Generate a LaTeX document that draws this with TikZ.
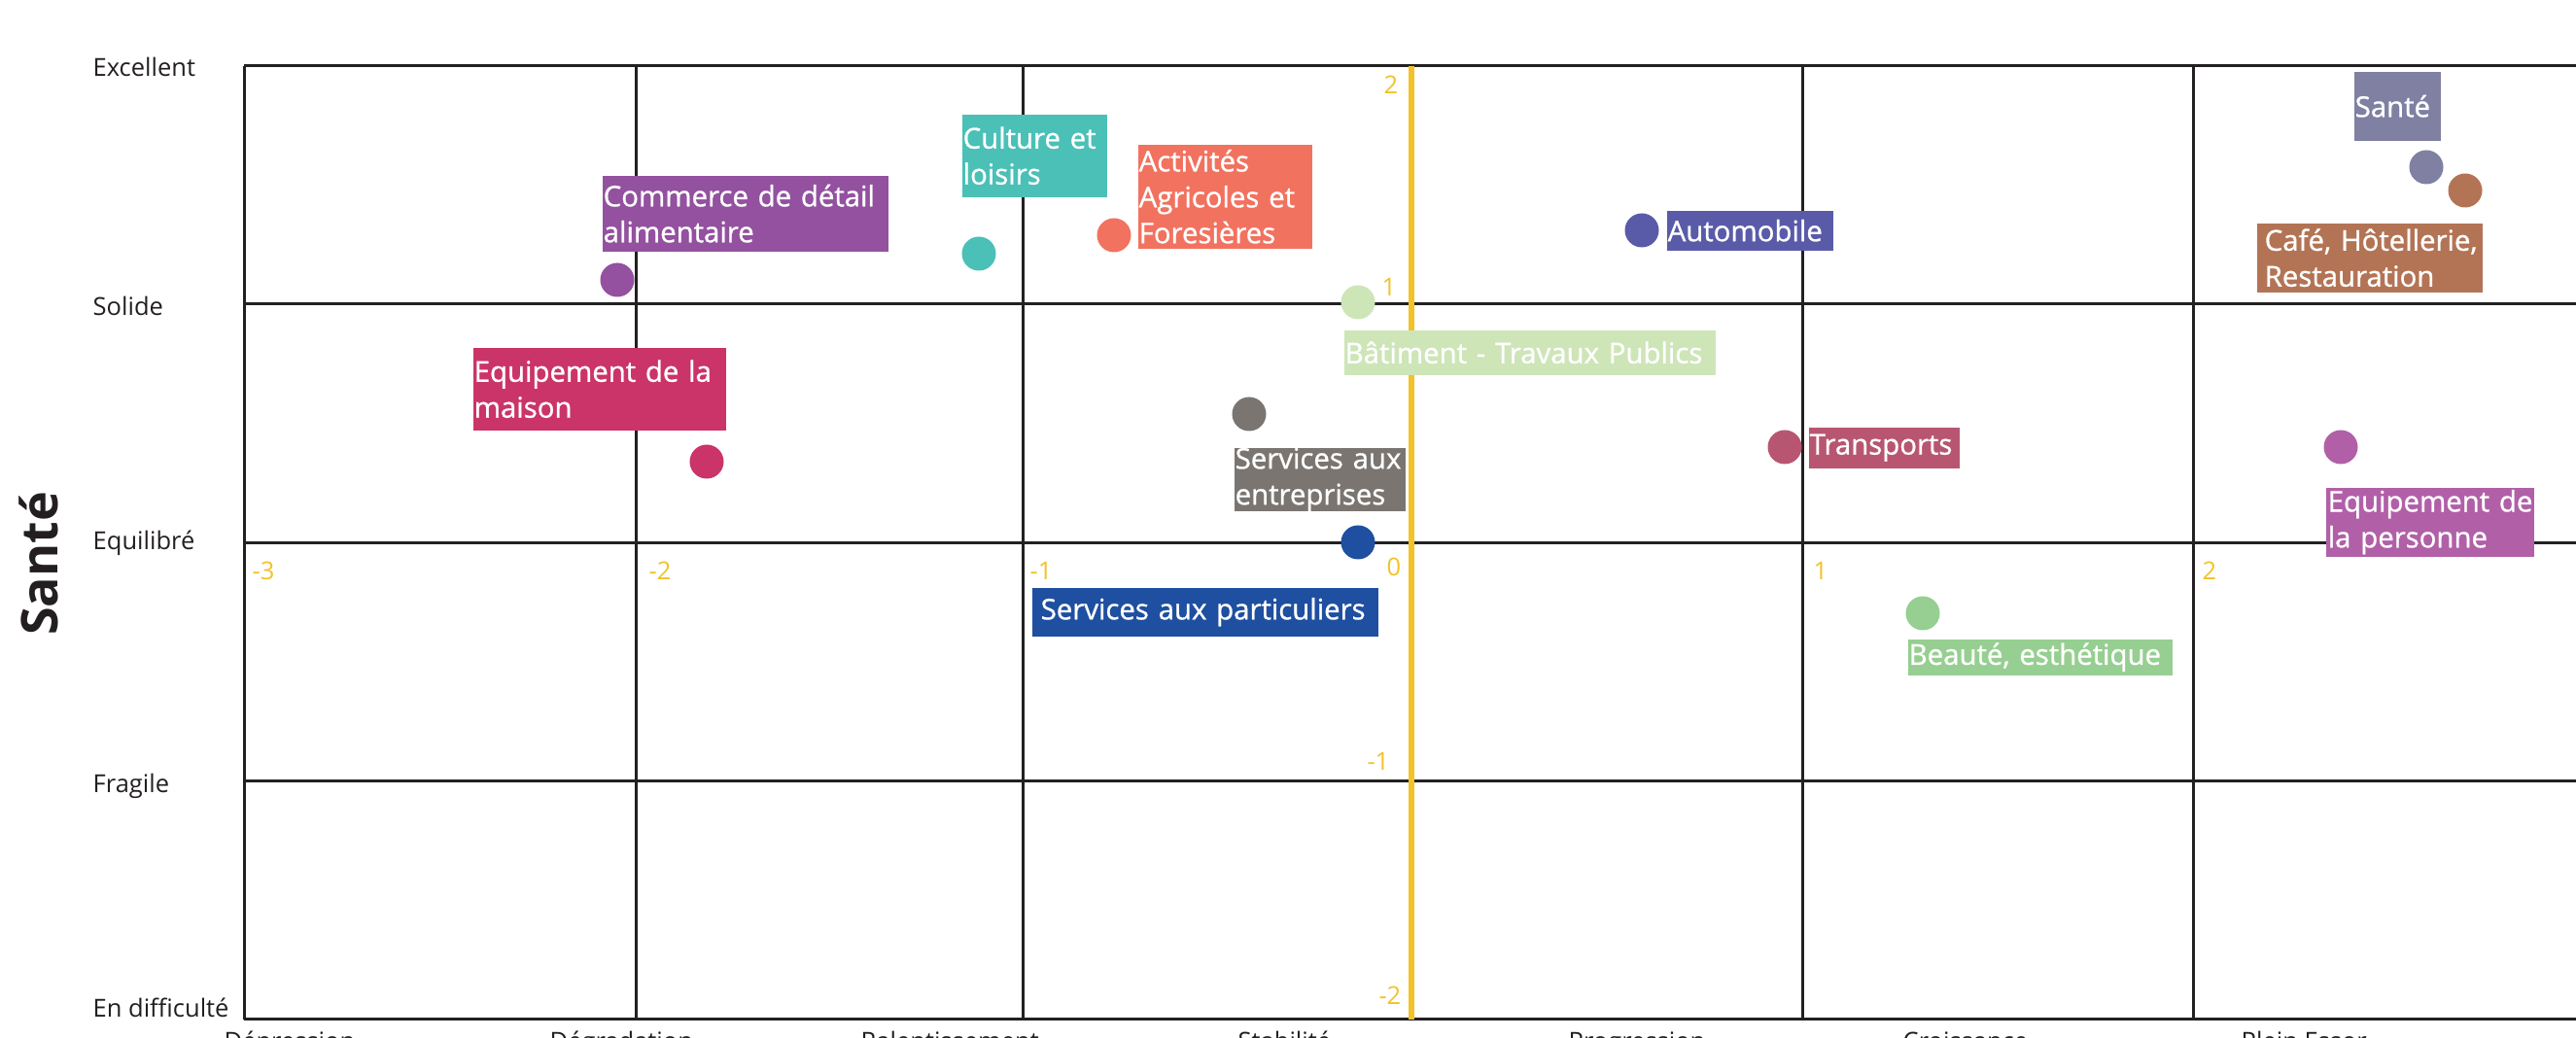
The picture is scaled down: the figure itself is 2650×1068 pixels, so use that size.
\documentclass[tikz,border=0pt]{standalone}
\usepackage{fontspec}
\setmainfont{Open Sans}
\newfontfamily\labfont[FakeBold=0.9]{Open Sans}
\definecolor{gridc}{RGB}{34,32,33}
\definecolor{axisy}{RGB}{242,194,40}
\definecolor{txt}{RGB}{35,31,32}
\definecolor{cCommerce}{RGB}{147,81,160}
\definecolor{cMaison}{RGB}{203,52,104}
\definecolor{cCulture}{RGB}{75,192,183}
\definecolor{cAgri}{RGB}{242,114,96}
\definecolor{cBtp}{RGB}{206,229,184}
\definecolor{cServE}{RGB}{122,117,113}
\definecolor{cAuto}{RGB}{90,91,168}
\definecolor{cSante}{RGB}{127,128,162}
\definecolor{cCafe}{RGB}{179,116,85}
\definecolor{cTrans}{RGB}{184,86,114}
\definecolor{cPers}{RGB}{177,96,168}
\definecolor{cServP}{RGB}{31,79,160}
\definecolor{cBeaute}{RGB}{150,207,145}
\newcommand{\catsize}{\fontsize{7.25pt}{9pt}\selectfont}
\newcommand{\labsize}{\fontsize{8.35pt}{10.5pt}\selectfont}
\tikzset{
  gridline/.style={draw=gridc, line width=0.03cm},
  yaxisline/.style={draw=axisy, line width=0.055cm},
  cat/.style={font=\catsize, text=txt, inner sep=0, anchor=base west},
  bottomcat/.style={font=\catsize, text=txt, inner sep=0, anchor=base west},
  num/.style={font=\catsize, text=axisy, inner sep=0},
  dot/.style={circle, fill=#1, minimum size=0.35cm, inner sep=0},
  lab/.style={fill=#1, text=white, font=\labfont\labsize, align=left,
              anchor=north west, inner ysep=0},
}
\begin{document}
\begin{tikzpicture}[x=0.01cm, y=-0.01cm]
\useasboundingbox (0,0) rectangle (2650,1068);
\clip (0,0) rectangle (2650,1068);
% grid
\foreach \yy in {68,313,559,804,1049}
  \draw[gridline] (251,\yy) -- (2670,\yy);
\foreach \xx in {251,654,1052,1453,1854,2256}
  \draw[gridline] (\xx,68) -- (\xx,1049);
\draw[yaxisline] (1452,68) -- (1452,1049);
% y title
\node[rotate=90, anchor=base, inner sep=0, text=txt,
      font=\bfseries\fontsize{14.8pt}{16pt}\selectfont] (ytitle) at (60,580) {Santé};
% category labels (health)
\node[cat] (hExc) at (95,79) {Excellent};
\node[cat] (hSol) at (95,325) {Solide};
\node[cat] (hEqu) at (95,566) {Equilibré};
\node[cat] (hFra) at (95,816) {Fragile};
\node[cat] (hDif) at (95,1047) {En difficulté};
% bottom categories (cut off by the page edge)
\node[bottomcat] (bDep) at (230,1081) {Dépression};
\node[bottomcat] (bDeg) at (565,1081) {Dégradation};
\node[bottomcat] (bRal) at (885,1081) {Ralentissement};
\node[bottomcat] (bSta) at (1273,1081) {Stabilité};
\node[bottomcat] (bPro) at (1613,1081) {Progression};
\node[bottomcat] (bCro) at (1957,1081) {Croissance};
\node[bottomcat] (bPle) at (2305,1081) {Plein Essor};
% x axis numbers
\node[num, anchor=base west] (xm3) at (259,597) {-3};
\node[num, anchor=base west] (xm2) at (667,597) {-2};
\node[num, anchor=base west] (xm1) at (1059,597) {-1};
\node[num, anchor=base west] (xp1) at (1865,597) {1};
\node[num, anchor=base west] (xp2) at (2265,597) {2};
% y axis numbers
\node[num, anchor=base east] (yp2) at (1439,97) {2};
\node[num, anchor=base east] (yp1) at (1437,305) {1};
\node[num, anchor=base east] (y0) at (1442,593) {0};
\node[num, anchor=base east] (ym1) at (1430,793) {-1};
\node[num, anchor=base east] (ym2) at (1442,1034) {-2};
% dots
\node[dot=cCommerce] (dCommerce) at (635,288) {};
\node[dot=cMaison] (dMaison) at (727,475) {};
\node[dot=cCulture] (dCulture) at (1007,261) {};
\node[dot=cAgri] (dAgri) at (1146,242) {};
\node[dot=cBtp] (dBtp) at (1397,311) {};
\node[dot=cServE] (dServE) at (1285,426) {};
\node[dot=cAuto] (dAuto) at (1689,237) {};
\node[dot=cSante] (dSante) at (2496,172) {};
\node[dot=cCafe] (dCafe) at (2536,196) {};
\node[dot=cTrans] (dTrans) at (1836,460) {};
\node[dot=cPers] (dPers) at (2408,460) {};
\node[dot=cServP] (dServP) at (1397,558) {};
\node[dot=cBeaute] (dBeaute) at (1978,631) {};
% labels
\node[lab=cCommerce, inner xsep=0.01cm, text width=2.92cm, minimum height=0.78cm] (lCommerce) at (619,180)
  {\mbox{Commerce de détail}\\\mbox{alimentaire}};
\node[lab=cMaison, inner xsep=0.01cm, text width=2.58cm, minimum height=0.85cm] (lMaison) at (486,357)
  {\mbox{Equipement de la}\\\mbox{maison}};
\node[lab=cCulture, inner xsep=0.01cm, text width=1.47cm, minimum height=0.85cm] (lCulture) at (989,117)
  {\mbox{Culture et}\\\mbox{loisirs}};
\node[lab=cAgri, inner xsep=0.01cm, text width=1.77cm, minimum height=1.07cm] (lAgri) at (1170,148)
  {\mbox{Activités}\\\mbox{Agricoles et}\\\mbox{Foresières}};
\node[lab=cBtp, inner xsep=0.01cm, text width=3.80cm, minimum height=0.46cm] (lBtp) at (1382,339)
  {\mbox{Bâtiment - Travaux Publics}};
\node[lab=cServE, inner xsep=0.01cm, text width=1.74cm, minimum height=0.64cm] (lServE) at (1269,460)
  {\mbox{Services aux}\\\mbox{entreprises}};
\node[lab=cAuto, inner xsep=0.01cm, text width=1.69cm, minimum height=0.41cm] (lAuto) at (1714,216)
  {\mbox{Automobile}};
\node[lab=cSante, inner xsep=0.01cm, text width=0.87cm, minimum height=0.71cm] (lSante) at (2421,73)
  {\mbox{Santé}};
\node[lab=cCafe, inner xsep=0.08cm, text width=2.16cm, minimum height=0.71cm] (lCafe) at (2321,229)
  {\mbox{Café, Hôtellerie,}\\\mbox{Restauration}};
\node[lab=cTrans, inner xsep=0.01cm, text width=1.53cm, minimum height=0.42cm] (lTrans) at (1860,439)
  {\mbox{Transports}};
\node[lab=cPers, inner xsep=0.02cm, text width=2.10cm, minimum height=0.71cm] (lPers) at (2392,501)
  {\mbox{Equipement de}\\\mbox{la personne}};
\node[lab=cServP, inner xsep=0.09cm, text width=3.38cm, minimum height=0.50cm] (lServP) at (1061,604)
  {\mbox{Services aux particuliers}};
\node[lab=cBeaute, inner xsep=0.01cm, text width=2.70cm, minimum height=0.37cm] (lBeaute) at (1962,657)
  {\mbox{Beauté, esthétique}};
\end{tikzpicture}
\end{document}
